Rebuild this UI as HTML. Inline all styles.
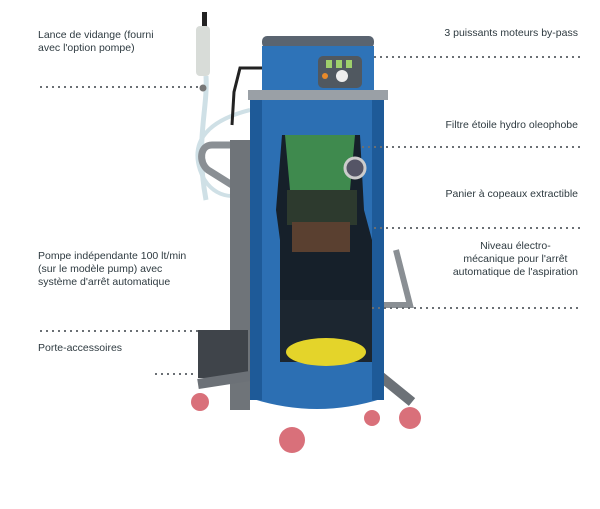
<!DOCTYPE html>
<html><head><meta charset="utf-8"><style>
html,body{margin:0;padding:0;background:#fff;}
body{width:600px;height:509px;position:relative;overflow:hidden;font-family:"Liberation Sans",sans-serif;font-size:10.5px;color:#2e3a40;}
.t{position:absolute;line-height:13px;white-space:nowrap;}
.r{text-align:right;}
.d{position:absolute;height:2px;background:repeating-linear-gradient(90deg,#6a6f74 0 2px,transparent 2px 6px);}
svg{position:absolute;left:0;top:0;}
</style></head><body>
<svg width="600" height="509" viewBox="0 0 600 509">
 <rect x="202" y="12" width="5" height="16" fill="#222"/>
 <rect x="196" y="26" width="14" height="50" rx="4" fill="#d8dcd8"/>
 <path d="M206 76 C208 110 195 140 206 200" stroke="#cfe0e6" stroke-width="5" fill="none"/>
 <path d="M250 110 C210 120 190 140 200 170 C210 200 240 200 245 190" stroke="#cfe0e6" stroke-width="4" fill="none"/>
 <path d="M255 145 L212 145 C200 145 198 162 208 170 L232 185" stroke="#8a8f94" stroke-width="7" fill="none"/>
 <rect x="230" y="140" width="20" height="270" fill="#6f7479"/>
 <rect x="198" y="330" width="50" height="48" fill="#3f444a"/>
 <path d="M198 384 L250 376 L380 376 L412 402" stroke="#6c7177" stroke-width="10" fill="none"/>
 <path d="M258 250 L300 305 L410 305 L396 250" stroke="#8a8f94" stroke-width="6" fill="none"/>
 <rect x="262" y="36" width="112" height="12" rx="5" fill="#5a6470"/>
 <rect x="262" y="46" width="112" height="44" fill="#2e73b8"/>
 <rect x="318" y="56" width="44" height="32" rx="5" fill="#505860"/>
 <rect x="326" y="60" width="6" height="8" fill="#9ecf6c"/><rect x="336" y="60" width="6" height="8" fill="#9ecf6c"/><rect x="346" y="60" width="6" height="8" fill="#9ecf6c"/>
 <circle cx="342" cy="76" r="6" fill="#eee"/>
 <circle cx="325" cy="76" r="3" fill="#e88a2a"/>
 <path d="M262 68 L240 68 L234 92 L232 125" stroke="#222" stroke-width="3" fill="none"/>
 <rect x="248" y="90" width="140" height="10" fill="#9aa0a6"/>
 <path d="M250 100 L384 100 L384 398 Q317 420 250 398 Z" fill="#2c6fb3"/>
 <rect x="250" y="100" width="12" height="300" fill="#1e5a98"/>
 <rect x="372" y="100" width="12" height="300" fill="#1e5a98"/>
 <path d="M282 135 L360 135 L364 210 L372 240 L372 300 L280 300 L280 240 L276 210 Z" fill="#16202a"/>
 <path d="M285 135 L355 135 L350 190 L290 190 Z" fill="#3f8a4e"/>
 <rect x="287" y="190" width="70" height="35" fill="#2d3a2e"/>
 <rect x="292" y="222" width="58" height="30" fill="#5a4030"/>
 <rect x="280" y="300" width="92" height="62" fill="#1c2630"/>
 <ellipse cx="326" cy="352" rx="40" ry="14" fill="#e4d42a"/>
 <circle cx="355" cy="168" r="10" fill="#556" stroke="#ccc" stroke-width="3"/>
 <circle cx="200" cy="402" r="9" fill="#d9707a"/>
 <circle cx="292" cy="440" r="13" fill="#d9707a"/>
 <circle cx="372" cy="418" r="8" fill="#d9707a"/>
 <circle cx="410" cy="418" r="11" fill="#d9707a"/>
 <circle cx="203" cy="88" r="3.5" fill="#777"/>
</svg>

<div class="t" style="left:38px;top:29px;">Lance de vidange (fourni<br>avec l'option pompe)</div>
<div class="d" style="left:40px;top:86px;width:158px;"></div>

<div class="t r" style="right:22px;top:27px;">3 puissants moteurs by-pass</div>
<div class="d" style="left:374px;top:56px;width:206px;"></div>

<div class="t r" style="right:22px;top:119px;">Filtre étoile hydro oleophobe</div>
<div class="d" style="left:362px;top:146px;width:218px;"></div>

<div class="t r" style="right:22px;top:188px;">Panier à copeaux extractible</div>
<div class="d" style="left:374px;top:227px;width:206px;"></div>

<div class="t" style="right:22px;top:240px;text-align:center;">Niveau électro-<br>mécanique pour l'arrêt<br>automatique de l'aspiration</div>
<div class="d" style="left:372px;top:307px;width:208px;"></div>

<div class="t" style="left:38px;top:250px;">Pompe indépendante 100 lt/min<br>(sur le modèle pump) avec<br>système d'arrêt automatique</div>
<div class="d" style="left:40px;top:330px;width:158px;"></div>

<div class="t" style="left:38px;top:342px;">Porte-accessoires</div>
<div class="d" style="left:155px;top:373px;width:40px;"></div>
</body></html>
